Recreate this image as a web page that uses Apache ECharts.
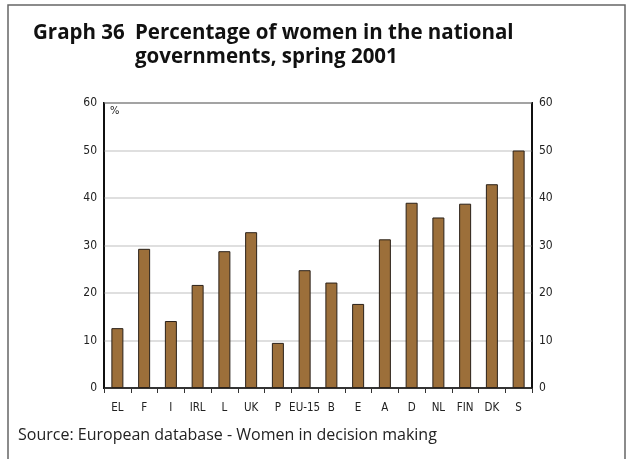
<!DOCTYPE html>
<html>
<head>
<meta charset="utf-8">
<script src="https://cdn.jsdelivr.net/npm/echarts@6/dist/echarts.min.js"></script>
<style>
html,body{margin:0;padding:0;background:#fff;}
#chart{width:628px;height:459px;}
</style>
</head>
<body>
<div id="chart"></div>
<script>
var categories = ['EL','F','I','IRL','L','UK','P','EU-15','B','E','A','D','NL','FIN','DK','S'];
var values = [12.6, 29.3, 14.1, 21.7, 28.8, 32.8, 9.5, 24.8, 22.2, 17.7, 31.3, 39.0, 35.9, 38.8, 42.9, 50.0];
var yTicks = {min: 0, max: 60, interval: 10};

var chart = echarts.init(document.getElementById('chart'));
var labelFont = "'DejaVu Sans Condensed','Liberation Sans Narrow',sans-serif";
chart.setOption({
  animation: false,
  backgroundColor: '#fff',
  graphic: [{
    type: 'rect',
    shape: {x: 8, y: 5, width: 617, height: 470},
    style: {fill: 'none', stroke: '#666', lineWidth: 1.5},
    z: 0
  }, {
    type: 'text',
    left: 110, top: 106,
    style: {text: '%', font: "11px " + labelFont, fill: '#222'}
  }],
  title: [{
    text: 'Graph 36',
    left: 28, top: 16,
    textStyle: {fontFamily: "'Open Sans',sans-serif", fontWeight: 'bold', fontSize: 20.5, color: '#111', lineHeight: 24}
  }, {
    text: 'Percentage of women in the national\ngovernments, spring 2001',
    left: 130, top: 16,
    textStyle: {fontFamily: "'Open Sans',sans-serif", fontWeight: 'bold', fontSize: 20.5, color: '#111', lineHeight: 24}
  }, {
    text: 'Source: European database - Women in decision making',
    left: 13, top: 422,
    textStyle: {fontFamily: "'Open Sans',sans-serif", fontWeight: 'normal', fontSize: 16, color: '#222'}
  }],
  grid: {left: 104, right: 96, top: 103, bottom: 71, show: true, borderColor: '#111', borderWidth: 2, backgroundColor: 'transparent'},
  xAxis: {
    type: 'category',
    data: categories,
    axisLine: {lineStyle: {color: '#111', width: 1.5}},
    axisTick: {show: true, alignWithLabel: false, length: 5, lineStyle: {color: '#333'}},
    axisLabel: {interval: 0, color: '#222', fontFamily: labelFont, fontSize: 11.5, margin: 14}
  },
  yAxis: [{
    type: 'value',
    min: yTicks.min, max: yTicks.max, interval: yTicks.interval,
    position: 'left',
    axisLine: {show: true, lineStyle: {color: '#111', width: 1.5}},
    axisTick: {show: false},
    splitLine: {lineStyle: {color: '#d4d4d4', width: 1.5}},
    axisLabel: {color: '#222', fontFamily: labelFont, fontSize: 12, margin: 7}
  }, {
    type: 'value',
    min: yTicks.min, max: yTicks.max, interval: yTicks.interval,
    position: 'right',
    axisLine: {show: true, lineStyle: {color: '#111', width: 1.5}},
    axisTick: {show: false},
    splitLine: {show: false},
    axisLabel: {color: '#222', fontFamily: labelFont, fontSize: 12, margin: 7}
  }],
  series: [{
    type: 'bar',
    data: values,
    barWidth: 12,
    itemStyle: {color: '#9c6f3a', borderColor: '#2a2018', borderWidth: 1}
  }]
});
</script>
</body>
</html>
